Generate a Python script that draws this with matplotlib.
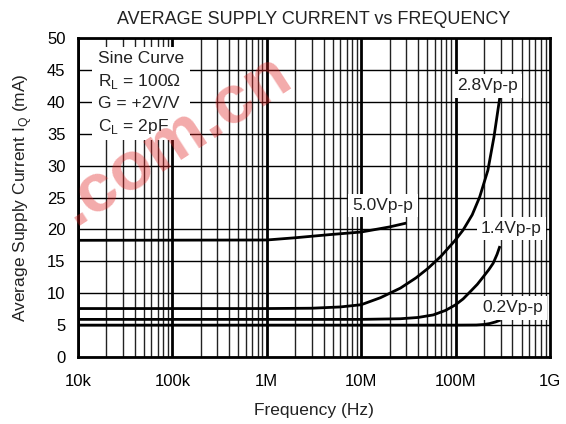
import matplotlib
matplotlib.use('Agg')
import matplotlib.pyplot as plt
from matplotlib.patches import Rectangle

plt.rcParams['font.family'] = ['Liberation Sans', 'DejaVu Sans']
plt.rcParams['mathtext.fontset'] = 'custom'
plt.rcParams['mathtext.rm'] = 'Liberation Sans'

# curves (frequency in Hz, current in mA)
f_50 = [1e4, 1e6, 2e6, 4.7e6, 1e7, 2e7, 3e7]
i_50 = [18.3, 18.35, 18.7, 19.2, 19.6, 20.4, 21.0]

f_28 = [1e4, 1e6, 3e6, 6e6, 1e7, 1.6e7, 2.6e7, 3.8e7, 5.1e7, 7e7, 9.9e7,
        1.2e8, 1.5e8, 1.8e8, 2.2e8, 2.55e8, 2.84e8, 3e8]
i_28 = [7.6, 7.6, 7.65, 7.85, 8.2, 9.3, 10.8, 12.4, 13.9, 15.8, 18.3,
        19.9, 22.3, 25.1, 29.3, 34.5, 39.2, 41.5]

f_14 = [1e4, 1e6, 1e7, 2.6e7, 4e7, 5.8e7, 7.8e7, 9.9e7, 1.2e8, 1.42e8,
        1.7e8, 1.97e8, 2.25e8, 2.5e8, 2.75e8, 2.95e8]
i_14 = [5.9, 5.9, 5.9, 6.0, 6.2, 6.6, 7.3, 8.15, 9.1, 10.2,
        11.4, 12.6, 13.7, 14.7, 16.1, 17.4]

f_02 = [1e4, 1e6, 1e8, 1.66e8, 2e8, 2.3e8, 2.65e8, 3e8]
i_02 = [5.0, 5.0, 5.0, 5.02, 5.1, 5.25, 5.5, 5.8]

curves = [(f_50, i_50, '5.0Vp-p', 1.7e7, 23.8),
          (f_28, i_28, '2.8Vp-p', 2.2e8, 42.5),
          (f_14, i_14, '1.4Vp-p', 3.9e8, 20.1),
          (f_02, i_02, '0.2Vp-p', 4.05e8, 7.7)]

x_ticks = [1e4, 1e5, 1e6, 1e7, 1e8, 1e9]
x_labels = ['10k', '100k', '1M', '10M', '100M', '1G']
y_ticks = list(range(0, 55, 5))

fig = plt.figure(figsize=(5.66, 4.24), dpi=100)
ax = fig.add_axes([0.1378, 0.158, 0.8339, 0.752])
ax.set_xscale('log')
ax.set_xlim(1e4, 1e9)
ax.set_ylim(0, 50)

# grid
for dec in range(4, 9):
    for m in range(1, 10):
        x = m * 10 ** dec
        if m == 1:
            ax.axvline(x, color='black', lw=2.0, zorder=1)
        else:
            ax.axvline(x, color='#222222', lw=1.0, zorder=1)
for y in y_ticks:
    ax.axhline(y, color='black', lw=1.0, zorder=1)

# legend box
ax.add_patch(Rectangle((0.030, 0.680), 0.207, 0.292, transform=ax.transAxes,
                       facecolor='white', edgecolor='none', zorder=2))
notes = ['Sine Curve', 'R$_\\mathregular{L}$ = 100Ω', 'G = +2V/V', 'C$_\\mathregular{L}$ = 2pF']
for k, s in enumerate(notes):
    ax.text(0.042, 0.937 - k * 0.0715, s, transform=ax.transAxes, fontsize=12.5,
            va='center', ha='left', color='#222222', zorder=3)

for f, i, lab, lx, ly in curves:
    ax.plot(f, i, color='black', lw=2.0, zorder=4, solid_capstyle='butt')
    ax.text(lx, ly, lab, fontsize=12.5, ha='center', va='center', color='#222222', zorder=5,
            bbox=dict(facecolor='white', edgecolor='none', pad=3))

ax.set_xticks(x_ticks)
ax.set_xticklabels(x_labels)
ax.set_yticks(y_ticks)
ax.minorticks_off()
ax.tick_params(length=0, labelsize=12, pad=12)
ax.tick_params(axis='y', pad=9)
for sp in ax.spines.values():
    sp.set_linewidth(2)
    sp.set_zorder(6)

ax.set_title('AVERAGE SUPPLY CURRENT vs FREQUENCY', fontsize=13, color='#222222', pad=10)
ax.set_xlabel('Frequency (Hz)', fontsize=12.5, color='#222222', labelpad=10)
ax.set_ylabel('Average Supply Current I$_\\mathregular{Q}$ (mA)', fontsize=12.5, color='#222222', labelpad=9)

# watermark
fig.text(0.31, 0.67, '.com.cn', fontsize=50, fontweight='bold', color='#e02020',
         alpha=0.38, rotation=33, ha='center', va='center', zorder=10)

fig.savefig('out.png', dpi=100)
